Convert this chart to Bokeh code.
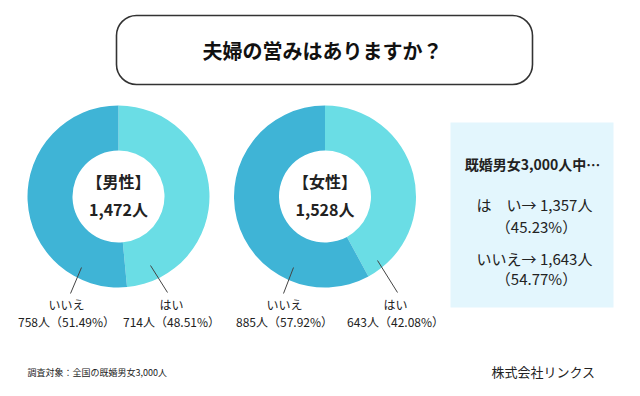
import math
from bokeh.plotting import figure
from bokeh.models import Label, BoxAnnotation, Range1d, ColumnDataSource
from bokeh.embed import file_html
from bokeh.resources import INLINE

# ---- data ----
groups = ["男性", "女性"]
answers = ["はい", "いいえ"]
yes_counts = [714, 643]
no_counts = [758, 885]
yes_pct = [48.51, 42.08]
no_pct = [51.49, 57.92]
total_people = 3000
total_yes = 1357
total_no = 1643
total_yes_pct = 45.23
total_no_pct = 54.77

title = "夫婦の営みはありますか？"
note = "調査対象：全国の既婚男女3,000人"
company = "株式会社リンクス"

YES_COLOR = "#6ADDE5"
NO_COLOR = "#3FB4D6"
TXT = "#222222"
FONT = "Noto Sans CJK JP"

W, H = 640, 396
p = figure(width=624, height=380, output_backend="svg", toolbar_location=None,
           x_range=Range1d(0, 624), y_range=Range1d(16, 396), min_border=0,
           background_fill_color="white", border_fill_color="white")
p.axis.visible = False
p.grid.visible = False
p.outline_line_color = None


def Y(y):
    return H - y


def lab(x, y, text, size, bold=False, align="center", color=TXT):
    p.add_layout(Label(x=x, y=Y(y), text=text, text_font=FONT, text_font_size=f"{size}px",
                       text_font_style="bold" if bold else "normal", text_align=align,
                       text_baseline="middle", text_color=color))


# title box
p.add_layout(BoxAnnotation(left=116, right=532, top=Y(15), bottom=Y(84), fill_color="white",
                           fill_alpha=1, line_color="#333333", line_alpha=1, line_width=1.6,
                           border_radius=20))
lab(322, 50, title, 20, bold=True, color="#111111")

# donuts
centers = [(118, 196), (324.5, 196)]
R_OUT, R_IN = 91, 46
starts, ends, colors, xs, ys = [], [], [], [], []
for (cx, cy), yc, nc in zip(centers, yes_counts, no_counts):
    tot = yc + nc
    top = math.pi / 2
    a_yes = 2 * math.pi * yc / tot
    # はい: clockwise from top
    starts.append(top - a_yes); ends.append(top); colors.append(YES_COLOR)
    xs.append(cx); ys.append(Y(cy))
    # いいえ: remainder
    starts.append(top); ends.append(top + 2 * math.pi - a_yes); colors.append(NO_COLOR)
    xs.append(cx); ys.append(Y(cy))
src = ColumnDataSource(dict(x=xs, y=ys, s=starts, e=ends, c=colors))
p.annular_wedge(x="x", y="y", inner_radius=R_IN, outer_radius=R_OUT,
                inner_radius_units="screen", outer_radius_units="screen",
                start_angle="s", end_angle="e", fill_color="c", line_color=None, source=src)

# center texts
for (cx, cy), g, yc, nc in zip(centers, groups, yes_counts, no_counts):
    lab(cx, 180, f"【{g}】", 16, bold=True)
    lab(cx, 208, f"{yc + nc:,}人", 16, bold=True)

# leader lines and labels
leaders = [
    # (line start, line end, text x) for いいえ then はい, per donut
    [((81, 267), (70, 293), 66), ((150, 265), (167, 292), 171)],
    [((293, 267), (283, 293), 284), ((377, 260), (397, 292), 395)],
]
seg = dict(x0=[], y0=[], x1=[], y1=[])
for i in range(2):
    vals = [(answers[1], no_counts[i], no_pct[i]), (answers[0], yes_counts[i], yes_pct[i])]
    for (a, b, tx), (name, n, pc) in zip(leaders[i], vals):
        seg["x0"].append(a[0]); seg["y0"].append(Y(a[1]))
        seg["x1"].append(b[0]); seg["y1"].append(Y(b[1]))
        lab(tx, 304, name, 12)
        lab(tx, 321, f"{n}人（{pc:.2f}%）", 12)
p.segment(x0="x0", y0="y0", x1="x1", y1="y1", source=ColumnDataSource(seg),
          line_color="#444444", line_width=1)

# summary box
p.add_layout(BoxAnnotation(left=450, right=613, top=Y(122), bottom=Y(307),
                           fill_color="#E3F6FD", fill_alpha=1, line_color=None))
lab(532, 163, f"既婚男女{total_people:,}人中…", 14, bold=True)
lab(534, 204, f"は　い→ {total_yes:,}人", 15)
lab(536, 226, f"（{total_yes_pct:.2f}%）", 15)
lab(534, 258, f"いいえ→ {total_no:,}人", 15)
lab(536, 278, f"（{total_no_pct:.2f}%）", 15)

# footer
lab(27, 372, note, 9, align="left")
lab(543, 371, company, 13)

open("out.html", "w").write(file_html(p, INLINE))
